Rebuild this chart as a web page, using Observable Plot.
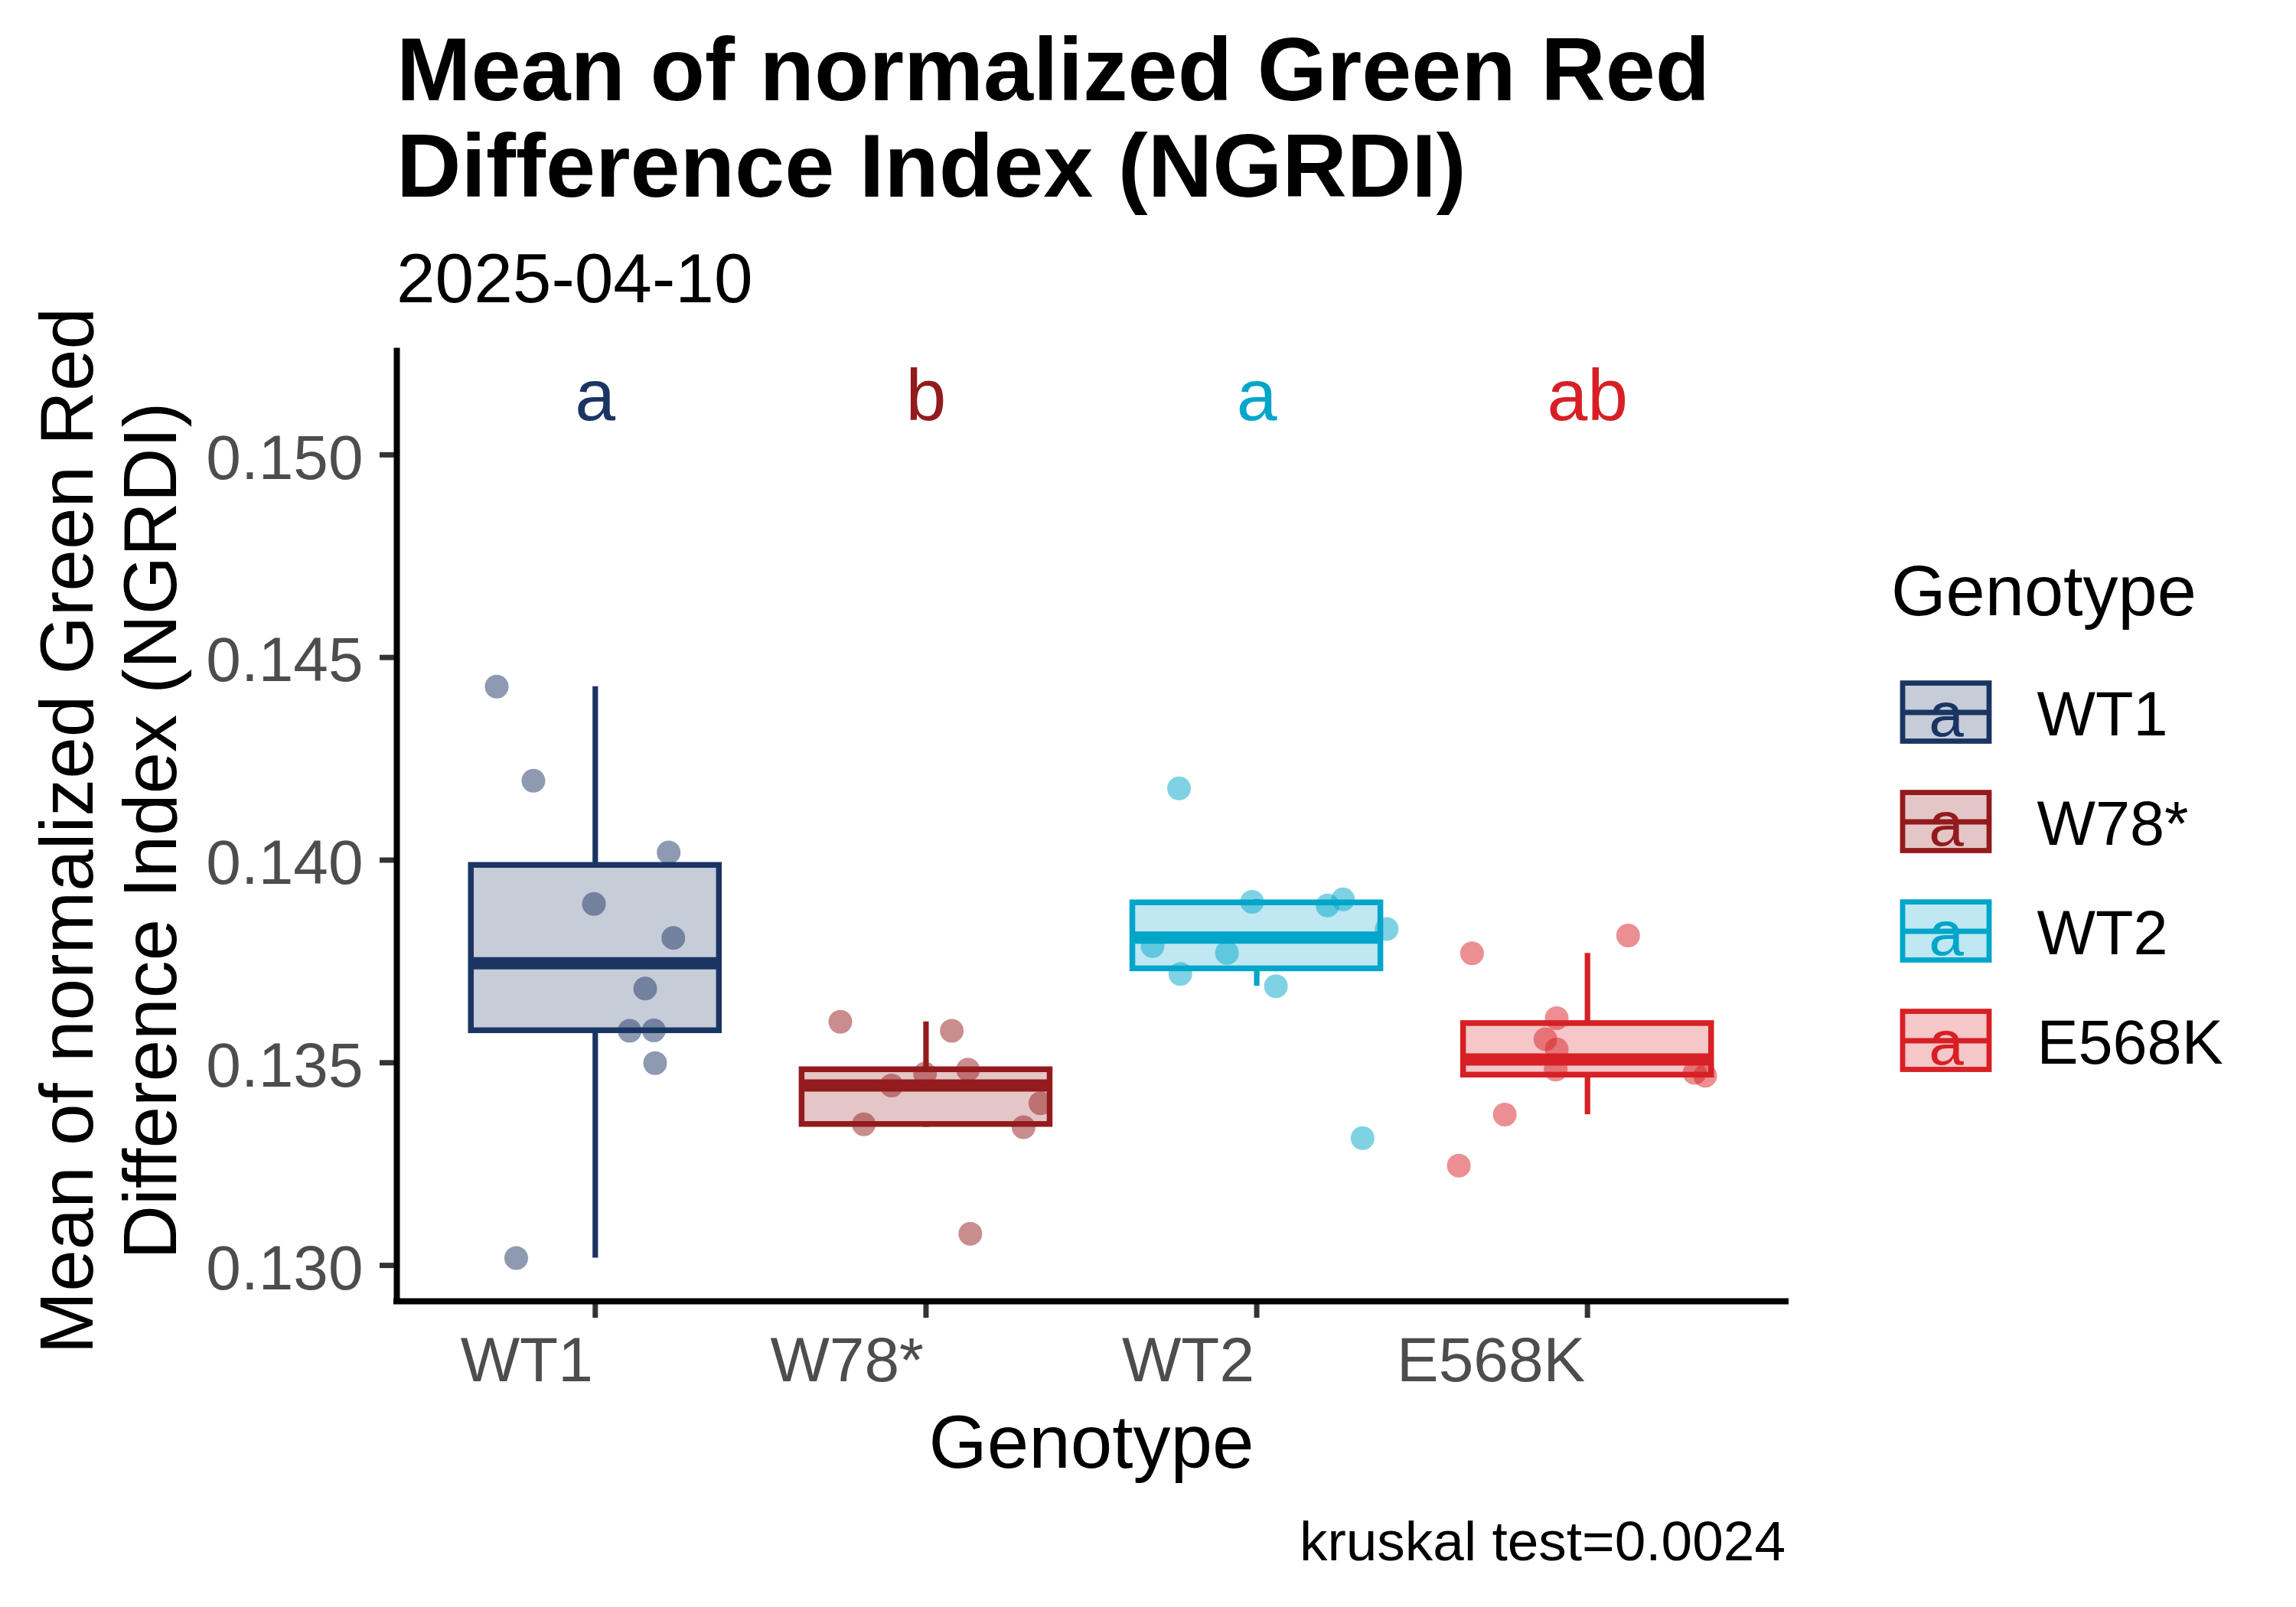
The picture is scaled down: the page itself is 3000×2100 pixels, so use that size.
<!DOCTYPE html>
<html><head><meta charset="utf-8">
<script src="https://cdn.jsdelivr.net/npm/d3@7"></script>
<script src="https://cdn.jsdelivr.net/npm/@observablehq/plot@0.6"></script>
<style>
html,body{margin:0;padding:0;background:#fff;}
#page{position:relative;width:3000px;height:2100px;overflow:hidden;font-family:"Liberation Sans",Arial,sans-serif;color:#000;}
.abs{position:absolute;white-space:nowrap;}
</style></head><body><div id="page">
<div class="abs" id="chart" style="left:0;top:0;"></div>
<div class="abs" id="legend" style="left:2400px;top:850px;"></div>
<div class="abs" id="title" style="left:518px;top:28px;font-size:117px;font-weight:bold;line-height:126px;">Mean of normalized Green Red<br>Difference Index (NGRDI)</div>
<div class="abs" id="subtitle" style="left:518px;top:318px;font-size:91px;line-height:91px;">2025-04-10</div>
<div class="abs" id="caption" style="right:667px;top:1977px;font-size:73px;line-height:73px;text-align:right;">kruskal test=0.0024</div>
<div class="abs" id="legtitle" style="left:2471px;top:726px;font-size:92px;line-height:92px;">Genotype</div>
</div>
<script>
const genotypes = ["WT1", "W78*", "WT2", "E568K"];
const colors = ["#1B3563", "#931B1D", "#00A5CA", "#D72025"];
const letters = ["a", "b", "a", "ab"];
const wt1Values = [0.14428, 0.14196, 0.14019, 0.13892, 0.13808, 0.13683, 0.13579, 0.13580, 0.13499, 0.13018];
const wt1Jitter = [-0.298, -0.187, 0.222, -0.004, 0.236, 0.151, 0.104, 0.177, 0.181, -0.239];
const w78Values = [0.13601, 0.13579, 0.13473, 0.13483, 0.13444, 0.13400, 0.13348, 0.13341, 0.13078];
const w78Jitter = [-0.259, 0.078, -0.003, 0.127, -0.104, 0.346, -0.188, 0.295, 0.134];
const wt2Values = [0.14177, 0.13897, 0.13888, 0.13903, 0.13830, 0.13788, 0.13771, 0.13719, 0.13689, 0.13314];
const wt2Jitter = [-0.235, -0.014, 0.214, 0.261, 0.393, -0.315, -0.090, -0.231, 0.058, 0.320];
const e568kValues = [0.13770, 0.13814, 0.13610, 0.13558, 0.13533, 0.13483, 0.13475, 0.13468, 0.13372, 0.13246];
const e568kJitter = [-0.349, 0.123, -0.093, -0.127, -0.093, -0.096, 0.324, 0.356, -0.250, -0.389];
const yTicks = [0.130, 0.135, 0.140, 0.145, 0.150];
const letterY = 0.15149;
const yTitle = "Mean of normalized Green Red\nDifference Index (NGRDI)";
const xTitle = "Genotype";

const valueSets = [wt1Values, w78Values, wt2Values, e568kValues];
const jitterSets = [wt1Jitter, w78Jitter, wt2Jitter, e568kJitter];
const boxHalf = 0.375;

const points = [];
const stats = genotypes.map((g, i) => {
  const vals = valueSets[i];
  vals.forEach((v, j) => points.push({genotype: g, pos: i + 1, jitter: jitterSets[i][j], value: v}));
  const s = d3.sort(vals);
  const q1 = d3.quantile(s, 0.25), med = d3.quantile(s, 0.5), q3 = d3.quantile(s, 0.75);
  const iqr = q3 - q1;
  const lo = d3.min(s.filter(v => v >= q1 - 1.5 * iqr));
  const hi = d3.max(s.filter(v => v <= q3 + 1.5 * iqr));
  return {genotype: g, pos: i + 1, q1, med, q3, lo, hi, letter: letters[i]};
});

const dataMin = d3.min(points, d => d.value);
const range = letterY - dataMin;
const yDomain = [dataMin - 0.05 * range, letterY + 0.05 * range];
const xDomain = [0.4, 4.6];
const font = '"Liberation Sans", Arial, sans-serif';

const chart = Plot.plot({
  width: 2400, height: 2100,
  marginLeft: 518, marginRight: 67, marginTop: 458.5, marginBottom: 400,
  style: {fontFamily: font, background: "transparent", overflow: "visible"},
  x: {domain: xDomain, axis: null},
  y: {domain: yDomain, axis: null},
  color: {domain: genotypes, range: colors},
  marks: [
    Plot.axisY({ticks: yTicks, tickSize: 22, stroke: "#333333", fill: "none", strokeWidth: 7, label: null}),
    Plot.axisY({ticks: yTicks, tickFormat: d3.format(".3f"), tickSize: 22, tickPadding: 22, stroke: "none", fill: "#4D4D4D", fontSize: 82, dy: 5, label: null}),
    Plot.axisX({ticks: [1, 2, 3, 4], tickSize: 22, stroke: "#333333", fill: "none", strokeWidth: 7, label: null}),
    Plot.axisX({ticks: [1, 2, 3, 4], tickFormat: i => genotypes[i - 1], tickSize: 22, tickPadding: 24, stroke: "none", fill: "#4D4D4D", fontSize: 82, textAnchor: "end", dx: -3, label: null}),
    Plot.ruleX([xDomain[0]], {x: d => d, y1: yDomain[0], y2: yDomain[1], stroke: "black", strokeWidth: 8, strokeLinecap: "square"}),
    Plot.ruleY([yDomain[0]], {y: d => d, x1: xDomain[0], x2: xDomain[1], stroke: "black", strokeWidth: 8, strokeLinecap: "square"}),
    Plot.ruleX(stats, {x: "pos", y1: "q3", y2: "hi", stroke: "genotype", strokeWidth: 7.2}),
    Plot.ruleX(stats, {x: "pos", y1: "lo", y2: "q1", stroke: "genotype", strokeWidth: 7.2}),
    Plot.rect(stats, {x1: d => d.pos - boxHalf, x2: d => d.pos + boxHalf, y1: "q1", y2: "q3", fill: "genotype", fillOpacity: 0.25, stroke: "genotype", strokeWidth: 7.5}),
    Plot.ruleY(stats, {y: "med", x1: d => d.pos - boxHalf, x2: d => d.pos + boxHalf, stroke: "genotype", strokeWidth: 16}),
    Plot.dot(points, {x: d => d.pos + d.jitter, y: "value", r: 15.5, fill: "genotype", fillOpacity: 0.5, stroke: null}),
    Plot.text(stats, {x: "pos", y: () => letterY, text: "letter", fill: "genotype", fontSize: 95, dy: 3}),
    Plot.text([yTitle], {frameAnchor: "left", textAnchor: "middle", lineAnchor: "middle", text: d => d, rotate: -90, fontSize: 98, lineHeight: 1.112, dx: -378, dy: 6, fill: "black"}),
    Plot.text([xTitle], {frameAnchor: "bottom", lineAnchor: "middle", text: d => d, fontSize: 98, dy: 186, fill: "black"})
  ]
});
document.getElementById("chart").appendChild(chart);

const legend = Plot.plot({
  width: 600, height: 600,
  marginLeft: 86, marginRight: 401, marginTop: 22.4, marginBottom: 32.5,
  style: {fontFamily: font, background: "transparent", overflow: "visible"},
  x: {domain: [0, 1], axis: null},
  y: {type: "band", domain: genotypes, paddingInner: 0.207, paddingOuter: 0, axis: null},
  color: {domain: genotypes, range: colors},
  marks: [
    Plot.ruleX(genotypes, {x: () => 0.5, y: d => d, stroke: d => d, strokeWidth: 6.8}),
    Plot.barX(genotypes, {x1: () => 0, x2: () => 1, y: d => d, insetTop: 18.6, insetBottom: 18.5, fill: d => d, fillOpacity: 0.25, stroke: d => d, strokeWidth: 6.8}),
    Plot.ruleY(genotypes, {y: d => d, x1: () => 0, x2: () => 1, stroke: d => d, strokeWidth: 6.8}),
    Plot.text(genotypes, {x: () => 0.5, y: d => d, text: () => "a", fill: d => d, fontSize: 82, dy: 4.5}),
    Plot.text(genotypes, {x: () => 1, y: d => d, text: d => d, textAnchor: "start", dx: 62, dy: 4, fontSize: 81, fill: "black"})
  ]
});
document.getElementById("legend").appendChild(legend);
</script>
</body></html>
